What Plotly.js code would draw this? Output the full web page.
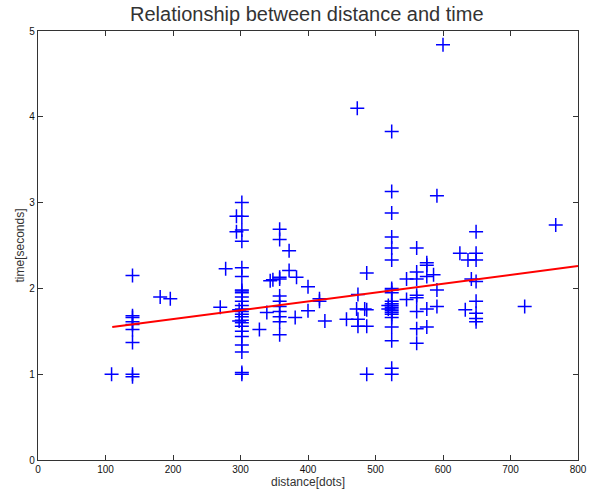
<!DOCTYPE html>
<html>
<head>
<meta charset="utf-8">
<script src="https://cdn.plot.ly/plotly-3.0.1.min.js"></script>
<style>html,body{margin:0;padding:0;background:#fff;}#chart{width:590px;height:491px;}</style>
</head>
<body>
<div id="chart"></div>
<script>
// measured points: distance [dots] and time [seconds]
const distance = [
  109,
  140,140,140,140,140,140,140,140,140,
  181,196,270,278,
  294,294,
  302,302,302,302,302,302,302,302,302,302,302,302,302,302,302,302,302,302,302,302,302,302,302,302,302,
  298,298,
  328,339,344,348,
  358,358,358,358,358,358,358,358,358,358,358,
  372,372,383,381,400,400,417,417,425,
  457,472,473,474,474,474,484,487,487,487,487,
  524,524,524,524,524,524,524,524,524,524,524,524,524,524,524,524,524,524,524,524,524,524,
  519,519,
  546,546,
  561,561,561,561,561,561,561,561,
  576,576,576,576,576,
  586,591,591,591,
  600,
  625,633,637,
  642,649,649,649,649,649,649,649,649,
  721,767
];
const time = [
  1.00,
  2.15,1.68,1.66,1.61,1.58,1.52,1.37,1.00,0.97,
  1.90,1.88,1.78,2.23,
  2.84,2.66,
  3.00,2.84,2.68,2.55,2.24,2.14,1.98,1.97,1.95,1.90,1.85,1.80,1.76,1.73,1.70,1.67,1.63,1.60,1.56,1.50,1.44,1.34,1.26,1.02,1.00,
  1.75,1.62,
  1.52,1.72,2.09,2.10,
  2.69,2.57,2.13,2.11,1.91,1.85,1.79,1.73,1.67,1.61,1.46,
  2.44,2.21,2.13,1.66,2.02,1.74,1.88,1.85,1.62,
  1.64,1.76,4.10,1.93,1.64,1.56,1.76,2.18,1.75,1.56,1.00,
  3.83,3.13,2.88,2.60,2.47,2.33,2.00,1.98,1.95,1.85,1.82,1.80,1.78,1.76,1.74,1.72,1.70,1.66,1.55,1.39,1.07,1.00,
  1.80,1.76,
  2.11,1.87,
  2.47,2.19,2.11,1.92,1.89,1.73,1.53,1.36,
  2.30,2.27,2.14,1.76,1.55,
  2.16,3.08,1.98,1.79,
  4.84,
  2.41,1.75,2.33,
  2.11,2.66,2.41,2.33,2.08,1.85,1.71,1.65,1.61,
  1.79,2.74
];
// fitted line end points
const fitX = [110, 800];
const fitY = [1.55, 2.26];
const xTicks = [0,100,200,300,400,500,600,700,800];
const yTicks = [0,1,2,3,4,5];

const font = "Liberation Sans, Arial, sans-serif";
const traces = [
  {x: distance, y: time, type: 'scatter', mode: 'markers',
   marker: {symbol: 'cross-thin-open', size: 10, color: '#0000ff', line: {color: '#0000ff', width: 1.5}},
   hoverinfo: 'skip'},
  {x: fitX, y: fitY, type: 'scatter', mode: 'lines',
   line: {color: '#ff0000', width: 2}, hoverinfo: 'skip'}
];
const axisCommon = {
  showgrid: false, zeroline: false, showline: true, mirror: 'ticks',
  linecolor: '#333', linewidth: 1.3, ticks: 'inside', ticklen: 5, tickcolor: '#333',
  tickfont: {family: font, size: 10, color: '#111'}
};
const layout = {
  width: 590, height: 491,
  margin: {l: 38, r: 12, t: 31, b: 31},
  paper_bgcolor: '#fff', plot_bgcolor: '#fff',
  showlegend: false,
  title: {text: 'Relationship between distance and time', font: {family: font, size: 20, color: '#333'},
          x: 0.52, xanchor: 'center', y: 0.985, yanchor: 'top'},
  xaxis: Object.assign({}, axisCommon, {range: [0, 800], tickvals: xTicks, ticktext: xTicks.map(String),
          title: {text: 'distance[dots]', font: {family: font, size: 12, color: '#333'}, standoff: 2}}),
  yaxis: Object.assign({}, axisCommon, {range: [0, 5], tickvals: yTicks, ticktext: yTicks.map(String),
          title: {text: 'time[seconds]', font: {family: font, size: 12, color: '#333'}, standoff: 2}})
};
Plotly.newPlot('chart', traces, layout, {displayModeBar: false, staticPlot: true});
</script>
</body>
</html>
